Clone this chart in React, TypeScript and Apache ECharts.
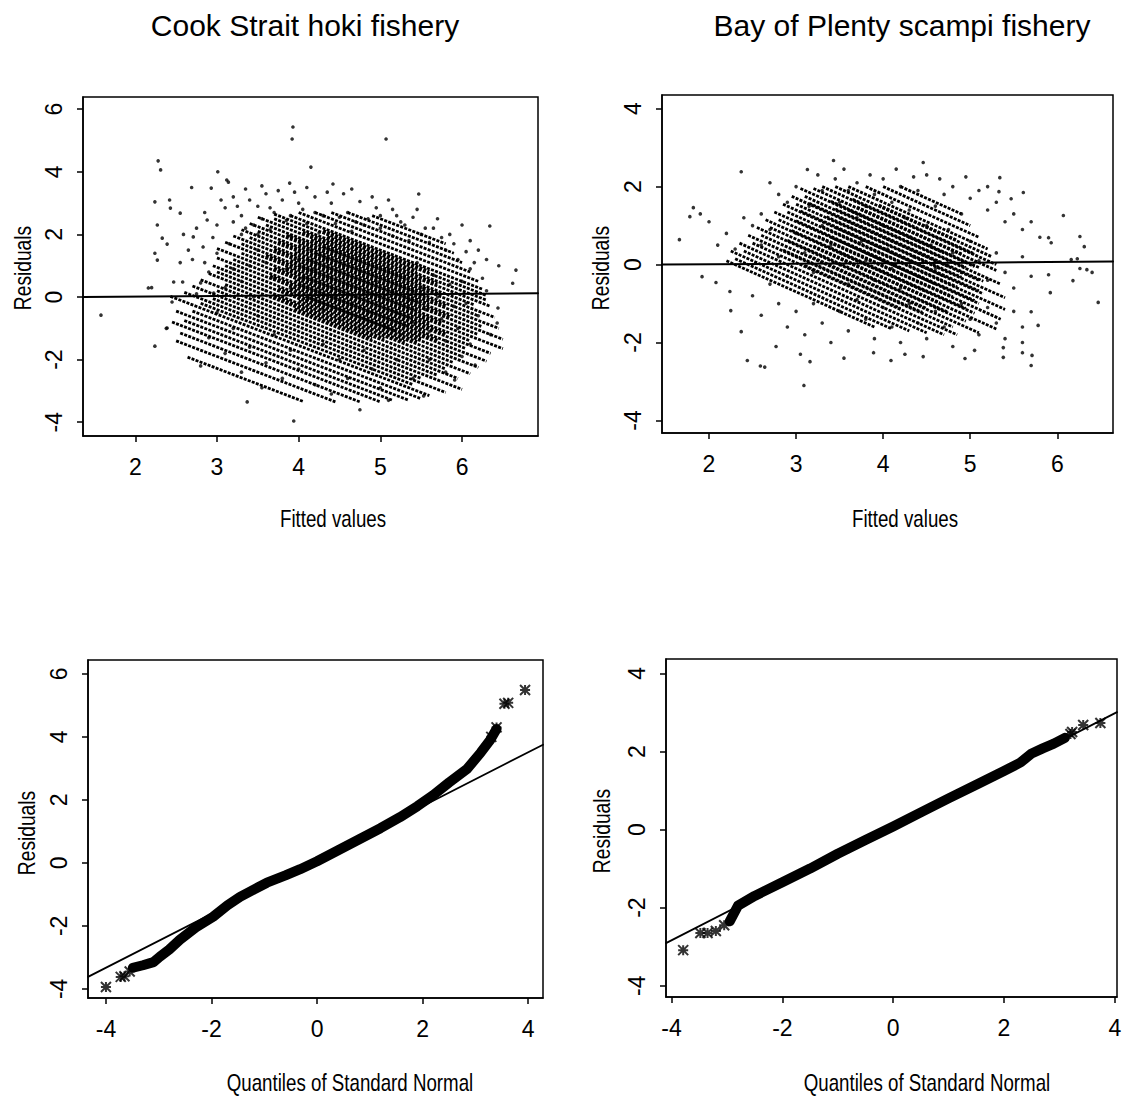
import React, { useEffect, useRef } from "react";
import * as echarts from "echarts";

// ---------- tick values ----------
const fittedTicks = [2, 3, 4, 5, 6];
const tlResidTicks = [-4, -2, 0, 2, 4, 6];
const trResidTicks = [-4, -2, 0, 2, 4];
const qqXTicks = [-4, -2, 0, 2, 4];

// ---------- Cook Strait hoki: residuals vs fitted ----------
const tlDots: number[][] = [
  [1.58,-0.58],[2.28,4.35],[2.31,4.06],[2.24,-1.57],[2.38,-1.0],[2.2,0.3],[3.01,4.0],[3.14,3.67],[3.93,5.43],[3.92,5.05],
  [4.15,4.15],[5.07,5.05],[3.89,3.64],[4.42,3.61],[5.47,3.29],[6.34,2.27],[6.66,0.86],[6.62,0.44],[6.44,-0.35],[6.43,-0.83],
  [6.16,-2.17],[5.91,-2.65],[3.94,-3.96],[3.37,-3.35],[4.75,-3.6],[5.53,-3.16],
  [2.24,3.04],[2.42,3.1],[2.43,2.84],[2.69,3.5],[2.93,3.48],[3.12,3.74],[2.27,2.3],[2.33,1.88],[2.39,1.69],[2.24,1.4],
  [2.27,1.18],[2.59,2.0],[2.71,1.92],[2.55,2.68],[2.83,1.6],[2.88,2.46],[2.16,0.29],[2.47,0.48],[2.58,0.48],[2.45,-0.16],
  [2.39,-0.99],[2.8,0.45],[2.96,0.13],
  [3.2,3.2],[3.35,3.45],[3.5,2.9],[3.6,3.3],[3.7,2.7],[3.8,3.1],[3.95,3.35],[4.05,2.8],[4.2,3.2],[4.3,2.6],
  [4.4,3.0],[4.55,3.3],[4.6,2.7],[4.75,3.05],[4.85,2.5],[4.95,2.85],[5.1,3.1],[5.2,2.6],[5.3,2.3],[5.45,2.8],
  [5.55,2.2],[5.7,2.5],[5.85,2.0],[6.0,2.3],[6.1,1.8],[6.2,1.5],[6.3,1.2],[6.45,1.0],[3.3,2.6],[3.45,2.3],
  [3.1,2.85],[3.0,2.3],[2.95,1.9],[3.15,1.7],[3.3,2.0],[3.55,2.5],[3.65,2.15],[3.85,2.45],[3.9,1.95],[4.1,2.35],
  [4.25,2.05],[4.45,2.35],[4.65,2.1],[4.8,2.3],[5.0,2.2],[5.15,1.95],[5.35,1.8],[5.6,1.75],[5.8,1.5],[5.95,1.2],
  [6.1,0.9],[6.25,0.6],
  [3.05,3.1],[3.25,2.9],[3.4,3.1],[3.55,3.55],[3.65,2.85],[3.75,3.4],[3.9,2.6],[4.0,3.0],[4.1,3.5],[4.2,2.7],
  [4.35,3.35],[4.5,2.55],[4.65,3.45],[4.7,2.4],[4.9,3.2],[5.0,2.6],[5.15,2.8],[5.25,2.4],[5.4,2.55],[5.5,2.0],
  [5.65,2.2],[5.75,1.9],[5.9,1.7],[6.05,1.45],[6.15,1.1],[3.35,2.2],[3.5,2.0],[3.2,2.4],[2.85,2.7],[2.75,2.2],
  [2.65,1.5],[2.55,1.1],[2.85,1.1],[3.0,1.4],
  [3.5,1.5],[3.6,1.1],[3.7,0.6],[3.75,1.4],[3.85,0.9],[3.9,0.3],[4.0,1.2],[4.05,0.6],[4.1,-0.1],[4.15,1.5],
  [4.2,0.9],[4.25,0.3],[4.3,-0.4],[4.35,1.2],[4.4,0.6],[4.45,0.0],[4.5,-0.7],[4.55,1.0],[4.6,0.4],[4.65,-0.2],
  [4.7,-1.0],[4.75,0.8],[4.8,0.1],[4.85,-0.5],[4.9,1.3],[4.95,0.5],[5.0,-0.2],[5.05,-0.9],[5.1,0.9],[5.15,0.2],
  [5.2,-0.5],[5.25,-1.2],[5.3,0.6],[5.35,-0.1],[5.4,-0.8],[5.45,1.1],[5.5,0.3],[5.55,-0.4],[5.6,-1.1],[5.65,0.7],
  [5.7,0.0],[5.75,-0.7],[5.8,-1.4],[5.85,0.4],[5.9,-0.3],[5.95,-1.0],[6.0,0.5],[6.05,-0.2],[6.1,-1.5],[6.2,-0.6],
  [6.3,0.2],[6.35,-1.2],
  [3.2,-1.0],[3.4,-1.6],[3.6,-2.1],[3.8,-2.6],[3.5,-0.6],[3.7,-1.2],[3.9,-1.7],[4.0,-2.3],[4.2,-2.8],[4.3,-1.5],
  [4.5,-2.0],[4.6,-2.6],[4.8,-1.7],[4.9,-2.3],[5.0,-2.9],[5.2,-2.0],[5.4,-2.6],[5.6,-2.0],[5.8,-2.4],[6.0,-1.9],
  [3.0,-0.5],[3.1,-1.8],[3.3,-2.4],[2.9,-1.3],[2.8,-2.2],[3.55,-2.9],[4.4,-3.1],[5.1,-3.3],[3.3,0.5],[3.4,1.0],
  [3.2,0.9],[3.1,0.3],[2.9,0.8],[2.7,1.2],[2.75,0.1],[3.45,0.0],[3.6,0.2]
];
// runs of points along a constant observed value: [x1, y1, x2, y2]
const tlStreaks: number[][] = [
  [2.64,-1.92,4.05,-3.33],[2.5,-1.4,4.45,-3.35],[2.55,-1.15,4.75,-3.35],[2.45,-0.8,5.0,-3.35],[2.6,-0.75,5.15,-3.3],
  [2.5,-0.45,5.35,-3.3],[2.7,-0.45,5.5,-3.25],[2.43,0.02,5.6,-3.15],[2.8,-0.2,5.4,-2.8],[2.6,0.15,5.8,-3.05],
  [2.95,-0.05,5.5,-2.6],[2.7,0.35,6.0,-2.95],[3.0,0.2,5.7,-2.5],[2.8,0.55,5.95,-2.6],[3.1,0.4,5.8,-2.3],
  [2.9,0.75,6.1,-2.45],[3.0,0.8,5.9,-2.1],[2.95,1.0,6.2,-2.25],[3.1,1.0,6.0,-1.9],[3.0,1.25,6.3,-2.05],
  [3.2,1.2,6.05,-1.65],[3.0,1.55,6.35,-1.8],[3.3,1.4,6.1,-1.4],[3.1,1.75,6.5,-1.65],[3.3,1.7,6.2,-1.2],
  [3.2,1.95,6.5,-1.35],[3.4,1.9,6.25,-0.95],[3.3,2.15,6.45,-1.0],[3.5,2.1,6.2,-0.6],[3.4,2.35,6.4,-0.65],
  [3.6,2.3,6.15,-0.25],[3.5,2.55,6.35,-0.3],[3.7,2.5,6.3,-0.1],[3.7,2.65,6.3,0.05],[3.9,2.6,6.25,0.25],
  [4.0,2.7,6.2,0.5],[4.2,2.7,6.1,0.8],[4.4,2.7,6.0,1.1],[4.6,2.7,5.9,1.4],[4.9,2.6,5.8,1.7],
  [3.95,-0.375,4.9,-1.325],[3.7,0.025,5.05,-1.325],[4.0,-0.125,5.3,-1.425],[3.75,0.275,5.45,-1.425],
  [3.9,0.275,5.5,-1.325],[3.65,0.675,5.7,-1.375],[3.95,0.525,5.55,-1.075],[3.7,0.925,5.8,-1.175],
  [3.85,0.925,5.6,-0.825],[3.6,1.325,5.75,-0.825],[3.9,1.175,5.5,-0.425],[3.7,1.525,5.85,-0.625],
  [3.95,1.425,5.6,-0.225],[3.75,1.775,5.8,-0.275],[4.0,1.675,5.55,0.125],[3.85,1.975,5.75,0.075],
  [4.15,1.825,5.5,0.475],[4.05,2.075,5.7,0.425],[4.35,1.925,5.45,0.825],[4.3,2.125,5.6,0.825],
  [4.1,0.0,5.2,-1.1],[4.0,0.4,5.35,-0.95],[4.05,0.65,5.4,-0.7],[4.0,1.0,5.45,-0.45],[4.1,1.2,5.5,-0.2],
  [4.2,1.4,5.45,0.15],[4.3,1.6,5.3,0.6]
];
const tlSmooth: number[][] = [[1.36,0.0],[3,0.03],[5,0.08],[6.93,0.12]];

// ---------- Bay of Plenty scampi: residuals vs fitted ----------
const trDots: number[][] = [
  [3.43,2.67],[4.46,2.62],[2.37,2.38],[3.13,2.44],[5.34,2.23],[1.82,1.46],[1.78,1.23],[1.66,0.64],[1.92,-0.31],[2.08,-0.46],
  [2.24,-0.69],[2.25,-1.18],[2.37,-1.72],[2.44,-2.46],[2.59,-2.6],[2.64,-2.63],[3.09,-3.1],[3.16,-2.49],[2.77,-2.1],[4.09,-2.46],
  [3.89,-2.26],[4.46,-2.36],[4.94,-2.41],[5.38,-2.38],[5.6,-2.26],[5.7,-2.59],[5.78,-1.56],[5.92,-0.72],[5.9,-0.26],[5.9,0.69],
  [5.93,0.56],[5.61,1.85],[5.33,1.87],[5.47,1.69],[6.07,1.26],[6.26,0.72],[6.31,0.46],[6.16,0.13],[6.23,0.15],[6.26,-0.1],
  [6.34,-0.13],[6.4,-0.2],[6.47,-0.97],[6.18,-0.41],[5.7,-1.21],[5.6,-2.0],[5.71,-2.33],[5.38,-2.13],
  [2.9,1.6],[3.0,2.0],[3.15,1.5],[3.3,1.9],[3.45,2.2],[3.5,1.6],[3.6,1.9],[3.7,2.1],[3.8,1.5],[3.9,1.8],
  [4.0,2.2],[4.1,1.6],[4.2,2.0],[4.3,1.4],[4.4,1.9],[4.5,2.3],[4.6,1.5],[4.7,1.8],[4.8,2.0],[4.9,1.3],
  [5.0,1.7],[5.1,1.9],[5.2,1.4],[5.3,1.6],[5.4,1.1],[5.5,1.3],[5.6,0.9],[5.7,1.1],[5.8,0.7],[2.6,1.3],
  [2.7,0.9],[2.5,1.0],[2.4,1.2],[2.2,0.8],[2.3,0.4],[2.1,0.5],[2.0,1.1],[1.9,1.3],
  [3.25,2.3],[3.55,2.45],[3.85,2.3],[4.15,2.45],[4.35,2.25],[4.65,2.2],[4.95,2.25],[5.2,2.0],[2.8,1.8],[2.7,2.1],
  [3.0,0.8],[3.1,0.3],[3.2,-0.2],[3.3,1.0],[3.4,0.5],[3.5,0.0],[3.6,-0.5],[3.7,1.2],[3.75,0.6],[3.8,0.1],
  [3.9,-0.4],[4.0,1.0],[4.05,0.4],[4.1,-0.1],[4.2,-0.6],[4.25,1.2],[4.3,0.7],[4.35,0.2],[4.4,-0.3],[4.5,1.0],
  [4.55,0.5],[4.6,-0.1],[4.7,-0.6],[4.75,0.9],[4.8,0.3],[4.9,-0.2],[5.0,0.6],[5.1,0.1],[5.2,-0.4],[5.3,0.3],
  [5.4,-0.2],[5.5,-0.6],[5.6,0.2],[5.7,-0.3],[2.8,0.2],[2.9,-0.3],[2.7,-0.5],[2.6,0.5],
  [2.5,-0.8],[2.6,-1.3],[2.8,-1.0],[2.9,-1.6],[3.0,-1.2],[3.1,-1.8],[3.2,-1.0],[3.3,-1.5],[3.4,-2.0],[3.5,-1.2],
  [3.6,-1.7],[3.7,-0.9],[3.8,-1.4],[3.9,-1.9],[4.0,-1.1],[4.1,-1.6],[4.2,-2.0],[4.3,-1.0],[4.4,-1.5],[4.5,-1.9],
  [4.6,-1.2],[4.7,-1.6],[4.8,-2.1],[4.9,-1.0],[5.0,-1.4],[5.1,-1.8],[5.2,-1.1],[5.3,-1.5],[5.4,-1.9],[5.5,-1.2],
  [5.6,-1.6],[3.05,-2.3],[3.55,-2.4],[4.25,-2.3],[5.05,-2.2]
];
const trStreaks: number[][] = [
  [2.2,0.1,3.9,-1.6],[2.3,0.15,4.1,-1.65],[2.25,0.35,4.3,-1.7],[2.4,0.35,4.5,-1.75],[2.35,0.55,4.7,-1.8],
  [2.5,0.55,4.85,-1.8],[2.45,0.75,4.8,-1.6],[2.6,0.75,5.1,-1.75],[2.55,0.95,4.95,-1.45],[2.7,0.95,5.3,-1.65],
  [2.65,1.15,5.05,-1.25],[2.8,1.15,5.35,-1.4],[2.75,1.35,5.1,-1.0],[2.9,1.35,5.4,-1.15],[2.85,1.55,5.15,-0.75],
  [3.0,1.55,5.4,-0.85],[2.95,1.75,5.1,-0.4],[3.1,1.75,5.35,-0.5],[3.05,1.95,5.05,-0.05],[3.2,1.95,5.3,-0.15],
  [3.3,2.0,5.3,0.0],[3.45,2.0,5.25,0.2],[3.6,2.0,5.2,0.4],[3.8,2.0,5.1,0.7],[4.0,2.0,5.0,1.0],[4.2,2.0,4.9,1.3],
  [3.1,-0.025,4.2,-1.125],[2.85,0.375,4.45,-1.225],[3.15,0.225,4.5,-1.125],[2.9,0.625,4.75,-1.225],
  [3.2,0.475,4.65,-0.975],[2.95,0.875,4.95,-1.125],[3.25,0.725,4.8,-0.825],[3.0,1.125,5.05,-0.925],
  [3.3,0.975,4.85,-0.575],[3.05,1.375,5.1,-0.675],[3.35,1.225,4.9,-0.325],[3.15,1.575,5.15,-0.425],
  [3.45,1.425,4.95,-0.075],[3.4,1.625,5.1,-0.075],[3.7,1.475,4.9,0.275],[3.65,1.675,5.05,0.275],
  [3.95,1.525,4.85,0.625],
  [3.5,0.3,4.5,-0.7],[3.4,0.7,4.6,-0.5],[3.45,0.95,4.7,-0.3],[3.5,1.2,4.75,-0.05],[3.6,1.4,4.7,0.3]
];
const trSmooth: number[][] = [[1.46,0.0],[3,0.02],[5,0.05],[6.64,0.08]];

// ---------- Normal QQ plots ----------
const blBand: number[][] = [
  [-3.49,-3.33],[-3.3,-3.25],[-3.1,-3.15],[-2.98,-2.98],[-2.8,-2.75],[-2.6,-2.44],[-2.3,-2.05],[-1.97,-1.71],
  [-1.7,-1.35],[-1.46,-1.08],[-1.2,-0.85],[-0.95,-0.63],[-0.6,-0.4],[-0.32,-0.2],[0,0.05],[0.4,0.4],[0.8,0.75],
  [1.2,1.1],[1.57,1.45],[1.9,1.8],[2.2,2.15],[2.5,2.55],[2.84,2.98],[3.1,3.5],[3.28,3.9],[3.4,4.25]
];
const blStars: number[][] = [[-4.0,-3.94],[-3.72,-3.62],[-3.65,-3.6],[-3.55,-3.45],[3.3,4.0],[3.4,4.3],[3.55,5.05],[3.62,5.08],[3.94,5.49]];
const blRef: number[][] = [[-4.34,-3.62],[4.28,3.75]];

const brBand: number[][] = [
  [-2.95,-2.35],[-2.8,-1.95],[-2.5,-1.7],[-2.0,-1.35],[-1.5,-1.0],[-1.0,-0.62],[-0.5,-0.27],[0,0.08],[0.5,0.44],
  [1.0,0.8],[1.5,1.15],[2.0,1.5],[2.3,1.72],[2.5,1.95],[2.7,2.08],[2.9,2.2],[3.1,2.35]
];
const brStars: number[][] = [[-3.79,-3.09],[-3.48,-2.65],[-3.35,-2.65],[-3.2,-2.6],[-3.05,-2.45],[3.2,2.45],[3.23,2.5],[3.43,2.68],[3.74,2.73]];
const brRef: number[][] = [[-4.1,-2.91],[4.04,3.01]];

const SANS = "'Liberation Sans', Arial, Helvetica, sans-serif";
const STAR = "path://M0 0L10 10M10 0L0 10M5 0L5 10M0 5L10 5";

function xAx(gi: number, min: number, max: number, ticks: number[]) {
  return {
    type: "value", gridIndex: gi, min, max,
    axisLine: { show: true, onZero: false, lineStyle: { color: "#000", width: 1.5 } },
    axisTick: { show: true, inside: false, length: 6, customValues: ticks, lineStyle: { color: "#000", width: 1.5 } },
    axisLabel: { show: true, customValues: ticks, margin: 19, color: "#000", fontSize: 23, fontFamily: SANS },
    splitLine: { show: false },
  };
}
function yAx(gi: number, min: number, max: number, ticks: number[]) {
  return {
    type: "value", gridIndex: gi, min, max,
    axisLine: { show: true, onZero: false, lineStyle: { color: "#000", width: 1.5 } },
    axisTick: { show: true, inside: false, length: 6, customValues: ticks, lineStyle: { color: "#000", width: 1.5 } },
    axisLabel: { show: true, customValues: ticks, rotate: 90, margin: 18, color: "#000", fontSize: 23, fontFamily: SANS },
    splitLine: { show: false },
  };
}

function dotSeries(i: number, data: number[][]) {
  return { type: "scatter", xAxisIndex: i, yAxisIndex: i, data, symbol: "circle", symbolSize: 3.6, itemStyle: { color: "#000" }, silent: true };
}
function streakSeries(i: number, segs: number[][]) {
  return {
    type: "lines", coordinateSystem: "cartesian2d", xAxisIndex: i, yAxisIndex: i, silent: true,
    data: segs.map((s) => ({ coords: [[s[0], s[1]], [s[2], s[3]]] })),
    lineStyle: { color: "#000", width: 2.8, opacity: 1, type: [3, 1.3], curveness: 0 },
  };
}
function lineSeries(i: number, data: number[][], width: number) {
  return {
    type: "line", xAxisIndex: i, yAxisIndex: i, data, showSymbol: false, symbol: "none", silent: true,
    lineStyle: { color: "#000", width, cap: "round", join: "round" },
  };
}
function starSeries(i: number, data: number[][]) {
  return {
    type: "scatter", xAxisIndex: i, yAxisIndex: i, data, symbol: STAR, symbolSize: 10, silent: true,
    itemStyle: { color: "rgba(0,0,0,0)", borderColor: "#000", borderWidth: 2 },
  };
}

function txt(x: number, y: number, text: string, size: number, rotation = 0, scaleX = 1) {
  return {
    type: "text", x, y, rotation, scaleX,
    style: { text, fontSize: size, fontFamily: SANS, fill: "#000", align: "center", verticalAlign: "middle", textAlign: "center", textVerticalAlign: "middle" },
  };
}

export default function App() {
  const ref = useRef<HTMLDivElement>(null);
  useEffect(() => {
    if (!ref.current) return;
    const chart = echarts.init(ref.current, null, { renderer: "svg" });
    const grids = [
      { left: 83, top: 97, width: 455, height: 339 },
      { left: 662, top: 95, width: 451, height: 338 },
      { left: 88, top: 660, width: 455, height: 338 },
      { left: 666, top: 659, width: 451, height: 338 },
    ].map((g) => ({ ...g, show: true, borderColor: "#000", borderWidth: 1.5, backgroundColor: "transparent" }));
    const option = {
      animation: false,
      backgroundColor: "#fff",
      grid: grids,
      xAxis: [
        xAx(0, 1.36, 6.93, fittedTicks),
        xAx(1, 1.46, 6.64, fittedTicks),
        xAx(2, -4.34, 4.28, qqXTicks),
        xAx(3, -4.1, 4.04, qqXTicks),
      ],
      yAxis: [
        yAx(0, -4.44, 6.39, tlResidTicks),
        yAx(1, -4.32, 4.35, trResidTicks),
        yAx(2, -4.29, 6.44, tlResidTicks),
        yAx(3, -4.29, 4.37, trResidTicks),
      ],
      series: [
        streakSeries(0, tlStreaks),
        dotSeries(0, tlDots),
        lineSeries(0, tlSmooth, 2),
        streakSeries(1, trStreaks),
        dotSeries(1, trDots),
        lineSeries(1, trSmooth, 2),
        lineSeries(2, blBand, 10),
        starSeries(2, blStars),
        lineSeries(2, blRef, 1.8),
        lineSeries(3, brBand, 10),
        starSeries(3, brStars),
        lineSeries(3, brRef, 1.8),
      ],
      graphic: [
        txt(305, 25, "Cook Strait hoki fishery", 30),
        txt(902, 25, "Bay of Plenty scampi fishery", 30),
        txt(333, 519, "Fitted values", 24, 0, 0.78),
        txt(905, 519, "Fitted values", 24, 0, 0.78),
        txt(350, 1083, "Quantiles of Standard Normal", 24, 0, 0.78),
        txt(927, 1083, "Quantiles of Standard Normal", 24, 0, 0.78),
        txt(23, 268, "Residuals", 24, Math.PI / 2, 0.8),
        txt(601, 268, "Residuals", 24, Math.PI / 2, 0.8),
        txt(27, 833, "Residuals", 24, Math.PI / 2, 0.8),
        txt(602, 831, "Residuals", 24, Math.PI / 2, 0.8),
      ],
    };
    chart.setOption(option as any);
    return () => chart.dispose();
  }, []);
  return <div ref={ref} style={{ position: "absolute", left: 0, top: 0, width: 1125, height: 1100, background: "#fff" }} />;
}
